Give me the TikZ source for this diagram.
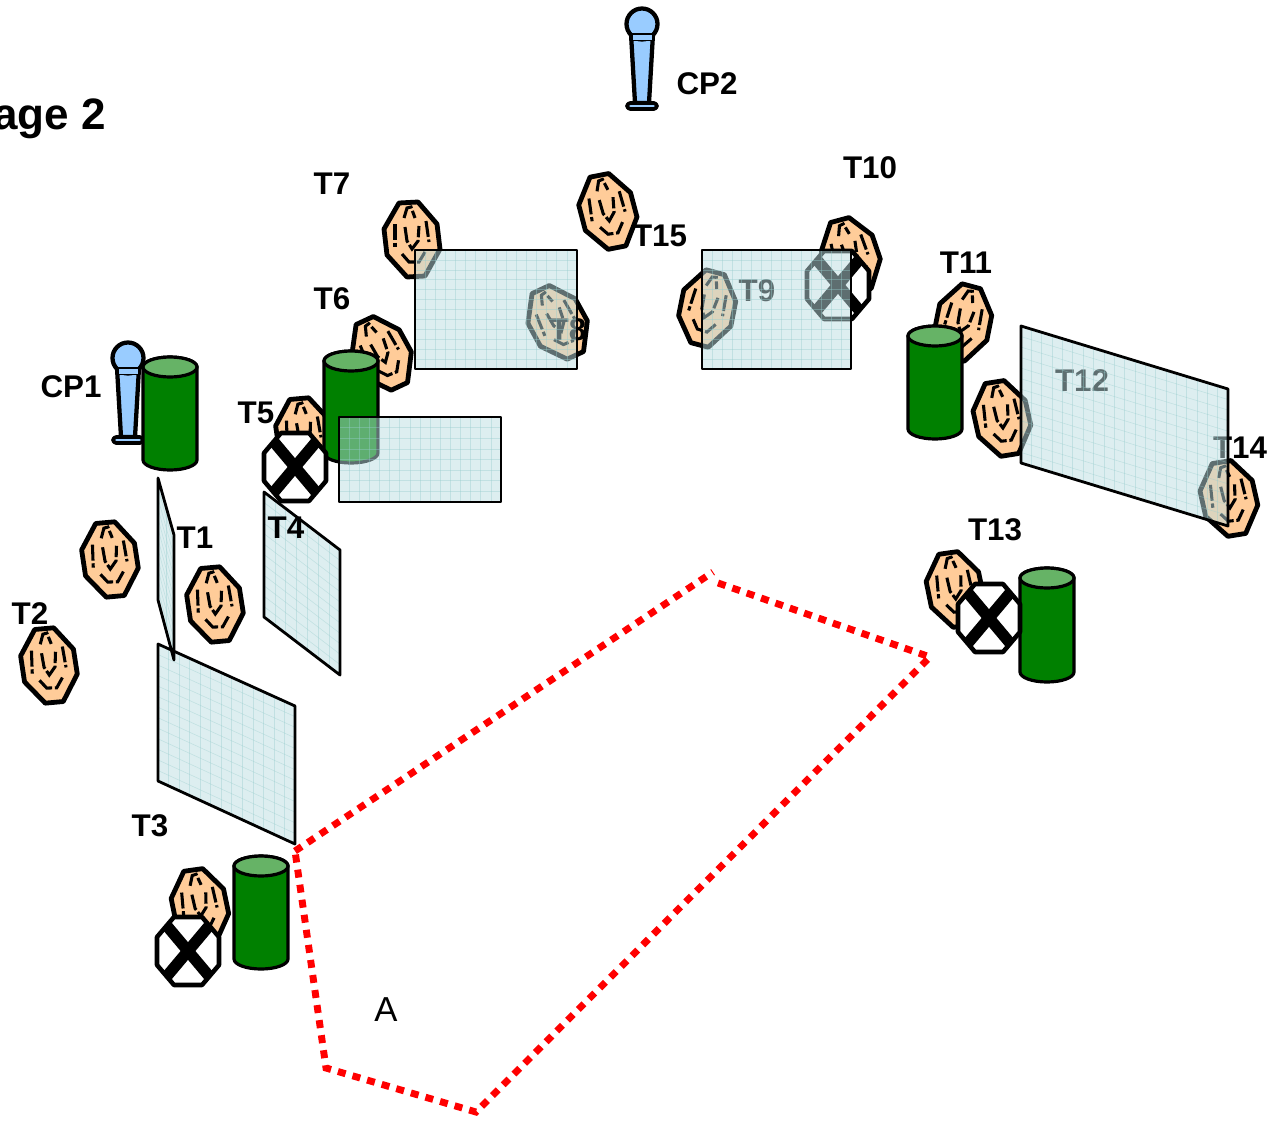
\documentclass[tikz,border=0pt]{standalone}
\usepackage{fontspec}
\setmainfont{Liberation Sans}
\usetikzlibrary{calc}
\definecolor{planefill}{RGB}{188,221,225}
\definecolor{gridc}{RGB}{150,205,205}
\definecolor{treefill}{RGB}{255,204,153}
\definecolor{micfill}{RGB}{153,204,255}
\definecolor{cylfill}{RGB}{0,128,0}
\definecolor{cyltop}{RGB}{102,179,102}
\tikzset{
  every picture/.style={x=0.75pt,y=-0.75pt},
  lbl/.style={font=\bfseries\fontsize{23.5}{25}\selectfont,inner sep=0pt,text=black},
  treeline/.style={draw=black,line width=3.6pt,fill=treefill,line join=round},
  treedash/.style={draw=black,line width=2.3pt,dash pattern=on 12pt off 2pt},
  xoct/.style={draw=black,line width=3.4pt,fill=white,line join=round},
  cyl/.style={draw=black,line width=2.4pt,fill=cylfill},
  micl/.style={draw=black,line width=3.2pt,fill=micfill,line join=round},
  planeedge/.style={draw=black,line width=2.1pt,line join=round},
  gridl/.style={draw=gridc,line width=0.45pt,opacity=0.4},
  border/.style={draw=red,line width=5.2pt,dash pattern=on 6pt off 5.4pt}
}
\newcommand{\tree}[3]{%
  \begin{scope}[shift={(#1,#2)},rotate=#3]
    \draw[treeline] (-13,-37)--(6,-38)--(25,-16)--(28,9)--(13,36)--(-5,37)--(-25,15)--(-28,-11)--cycle;
    \draw[treedash] (-8,-22)--(-5,-32)--(-1,-33)--(3,-22);
    \draw[treedash] (-7,-13)--(-5,1)--(0,9)--(6,1)--(7,-14);
    \draw[treedash] (-17,-16)--(-17,7);
    \draw[treedash] (14,-19)--(17,2);
    \draw[treedash] (-10,14)--(-3,22)--(7,22)--(13,12);
  \end{scope}}
\newcommand{\stopx}[2]{%
  \begin{scope}[shift={(#1,#2)}]
    \draw[xoct] (-14,-34)--(14,-34)--(31,-14)--(31,14)--(14,34)--(-14,34)--(-31,14)--(-31,-14)--cycle;
    \draw[black,line width=8.5pt] (-21,-25)--(21,25);
    \draw[black,line width=8.5pt] (21,-25)--(-21,25);
  \end{scope}}
% centre x, top y (axis of upper ellipse), bottom y (axis of lower ellipse)
\newcommand{\cylinder}[3]{%
  \draw[cyl] (#1-27,#2) -- (#1-27,#3) arc[start angle=180,end angle=360,x radius=27,y radius=-10] -- (#1+27,#2) arc[start angle=0,end angle=180,x radius=27,y radius=-10] -- cycle;
  \draw[draw=black,line width=2.4pt,fill=cyltop] (#1,#2) ellipse[x radius=27,y radius=10];}
\newcommand{\mic}[2]{%
  \begin{scope}[shift={(#1,#2)}]
    \draw[micl] (-11,-72)--(11,-72)--(7,-3)--(-7,-3)--cycle;
    \draw[draw=black,line width=1.2pt] (-11,-66)--(11,-66);
    \draw[micl] (0,-82) circle[radius=15.5];
    \draw[draw=none,fill=micfill] (-9.5,-72) rectangle (9.5,-66);
    \draw[draw=black,line width=1pt] (-11,-72)--(11,-72);
    \draw[micl,rounded corners=2.5pt,line width=2.8pt] (-15,-3) rectangle (15,3);
  \end{scope}}
% four corners, subdivisions along AB and AD
\newcommand{\plane}[6]{%
  \fill[planefill,opacity=0.5] #1--#2--#3--#4--cycle;
  \foreach \i in {1,...,\numexpr#5-1\relax}{
    \draw[gridl] ($#1!{\i/#5}!#2$)--($#4!{\i/#5}!#3$);}
  \foreach \j in {1,...,\numexpr#6-1\relax}{
    \draw[gridl] ($#1!{\j/#6}!#4$)--($#2!{\j/#6}!#3$);}
  \draw[planeedge] #1--#2--#3--#4--cycle;}
\begin{document}
\begin{tikzpicture}
\useasboundingbox (0,0) rectangle (1284,1120);
\clip (0,0) rectangle (1284,1120);
% title
\node[lbl,anchor=east,font=\bfseries\fontsize{33}{35}\selectfont] (title) at (106,119) {age 2};
% microphones
\mic{128}{440}
\mic{642}{106}
% trees
\tree{110}{560}{2}
\tree{49}{666}{2}
\tree{215}{605}{2}
\tree{304}{436}{2}
\tree{382}{354}{22}
\tree{412}{240}{0}
\tree{608}{212}{8}
\tree{558}{323}{22}
\tree{707}{309}{-18}
\tree{851}{256}{12}
\tree{963}{323}{-18}
\tree{1002}{419}{6}
\tree{1229}{499}{6}
\tree{955}{590}{5}
\tree{200}{907}{5}
% cylinders
\cylinder{170}{367}{460}
\cylinder{351}{361}{453}
\cylinder{935}{336}{429}
\cylinder{1047}{578}{672}
\cylinder{261}{866}{959}
% stop markers
\stopx{295}{467}
\stopx{838}{285}
\stopx{989}{618}
\stopx{188}{951}
% labels under the planes
\node[lbl] (t8) at (568,330) {T8};
\node[lbl] (t9) at (757,291) {T9};
\node[lbl] (t12) at (1082,381) {T12};
\node[lbl] (t14) at (1240,448) {T14};
% planes
\plane{(158,644)}{(295,706)}{(295,844)}{(158,781)}{13}{13}
\plane{(158,478)}{(174,535)}{(174,660)}{(158,600)}{2}{12}
\plane{(264,492)}{(340,550)}{(340,675)}{(264,617)}{7}{12}
\plane{(339,417)}{(501,417)}{(501,502)}{(339,502)}{16}{8}
\plane{(415,250)}{(577,250)}{(577,369)}{(415,369)}{16}{12}
\plane{(702,250)}{(851,250)}{(851,369)}{(702,369)}{15}{12}
\plane{(1021,326)}{(1228,389)}{(1228,526)}{(1021,463)}{20}{13}
% labels
\node[lbl] (cp1) at (71,387) {CP1};
\node[lbl] (cp2) at (707,84) {CP2};
\node[lbl] (t1) at (195,538) {T1};
\node[lbl] (t2) at (30,614) {T2};
\node[lbl] (t3) at (150,826) {T3};
\node[lbl] (t4) at (286,528) {T4};
\node[lbl] (t5) at (256,413) {T5};
\node[lbl] (t6) at (332,299) {T6};
\node[lbl] (t7) at (332,184) {T7};
\node[lbl] (t10) at (870,168) {T10};
\node[lbl] (t11) at (966,263) {T11};
\node[lbl] (t13) at (995,530) {T13};
\node[lbl] (t15) at (660,236) {T15};
\node[font=\fontsize{26}{28}\selectfont,inner sep=0pt] (a) at (386,1010) {A};
% dotted region
\draw[border] (295,851)--(713,572);
\draw[border] (718,583)--(930,657)--(476,1112)--(326,1068)--(295,851);
\end{tikzpicture}
\end{document}
